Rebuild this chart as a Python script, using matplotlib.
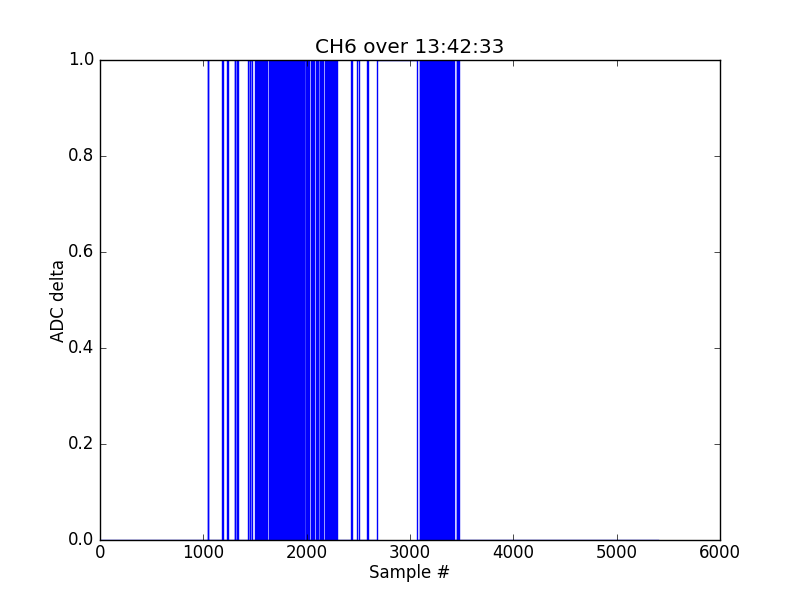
import matplotlib
matplotlib.use("Agg")
from matplotlib import pyplot as plt

plt.style.use("classic")

# ADC delta for channel 6: signal sits at 0, these are the (start, end) sample
# ranges where it reads 1
n_samples = 5400
high_runs = [
    (1045, 1047), (1177, 1187), (1225, 1235), (1303, 1310), (1326, 1335),
    (1436, 1447), (1456, 1468),
    # first burst
    (1502, 1511), (1520, 1528), (1537, 1547), (1556, 1565), (1573, 1583),
    (1592, 1601), (1609, 1619),
    (1638, 1647), (1655, 1665), (1674, 1683), (1691, 1701), (1710, 1718),
    (1727, 1737), (1746, 1755), (1763, 1773), (1782, 1790), (1799, 1809),
    (1818, 1827), (1835, 1845), (1854, 1863), (1871, 1881), (1890, 1898),
    (1907, 1917), (1926, 1935), (1943, 1953), (1962, 1971), (1979, 1989),
    (1998, 2007), (2016, 2026),
    (2044, 2053), (2062, 2070),
    (2088, 2097), (2105, 2114),
    (2131, 2140), (2149, 2157),
    (2174, 2183),
    (2199, 2208), (2217, 2226), (2235, 2244), (2253, 2262), (2271, 2280),
    (2286, 2292),
    # isolated pulses
    (2425, 2437), (2488, 2503), (2580, 2592),
    # long high stretch
    (2680, 3070),
    # second burst
    (3092, 3101), (3110, 3119), (3128, 3137), (3146, 3155), (3164, 3173),
    (3182, 3191), (3200, 3209), (3218, 3227), (3236, 3245), (3254, 3263),
    (3272, 3281), (3290, 3299), (3308, 3317), (3326, 3335), (3344, 3353),
    (3362, 3371), (3380, 3389), (3398, 3407), (3416, 3425),
    (3450, 3451), (3466, 3476),
]
title = "CH6 over 13:42:33"

# build the step trace from the runs
xs, ys = [0], [0]
for start, end in high_runs:
    xs += [start, start, end, end]
    ys += [0, 1, 1, 0]
xs.append(n_samples)
ys.append(0)

fig = plt.figure(figsize=(8, 6), dpi=100)
ax = fig.add_subplot(111)
ax.plot(xs, ys, color="b", linewidth=1.0)
ax.set_xlim(0, 6000)
ax.set_ylim(0, 1)
ax.tick_params(axis="x", pad=3)
ax.set_title(title)
ax.set_xlabel("Sample #", labelpad=1)
ax.set_ylabel("ADC delta", labelpad=0)

fig.savefig("out.png", dpi=100, facecolor="white")
